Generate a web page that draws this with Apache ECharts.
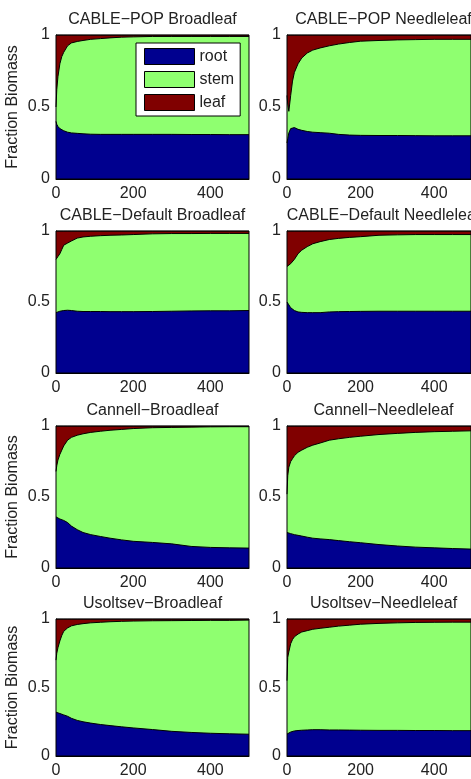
<!DOCTYPE html>
<html lang="en">
<head>
    <meta charset="UTF-8">
    <title>Fraction Biomass</title>
    <script src="https://cdn.jsdelivr.net/npm/echarts@6/dist/echarts.min.js"></script>
    <style>
        body {
            padding: 0;
            margin: 0;
            border: none;
            background: #fff;
        }
    </style>
</head>
<body>
<div style="width: 471px;height: 779px;" id="ec"></div>
<script>
    // years since start, shared by every panel
    const years = [0, 2, 5, 10, 15, 20, 30, 40, 55, 70, 90, 115, 140, 170, 200, 250, 300, 350, 400, 450, 500];

    const titles = [
        'CABLE−POP Broadleaf', 'CABLE−POP Needleleaf',
        'CABLE−Default Broadleaf', 'CABLE−Default Needleleaf',
        'Cannell−Broadleaf', 'Cannell−Needleleaf',
        'Usoltsev−Broadleaf', 'Usoltsev−Needleleaf'
    ];

    // root fraction (bottom boundary) per panel
    const popBroadRoot = [0.40, 0.38, 0.365, 0.35, 0.34, 0.335, 0.325, 0.32, 0.317, 0.314, 0.311, 0.31, 0.31, 0.31, 0.31, 0.31, 0.31, 0.309, 0.309, 0.308, 0.308];
    const popNeedleRoot = [0.25, 0.28, 0.32, 0.35, 0.36, 0.357, 0.345, 0.338, 0.33, 0.325, 0.322, 0.318, 0.31, 0.305, 0.303, 0.302, 0.302, 0.301, 0.30, 0.30, 0.30];
    const defBroadRoot = [0.425, 0.43, 0.435, 0.435, 0.44, 0.44, 0.442, 0.44, 0.435, 0.433, 0.433, 0.433, 0.432, 0.432, 0.432, 0.433, 0.435, 0.437, 0.438, 0.438, 0.44];
    const defNeedleRoot = [0.50, 0.495, 0.48, 0.46, 0.45, 0.44, 0.43, 0.427, 0.425, 0.425, 0.425, 0.43, 0.432, 0.433, 0.434, 0.435, 0.435, 0.435, 0.435, 0.435, 0.435];
    const cannBroadRoot = [0.36, 0.355, 0.35, 0.345, 0.34, 0.335, 0.32, 0.295, 0.27, 0.25, 0.235, 0.222, 0.21, 0.198, 0.188, 0.18, 0.17, 0.152, 0.145, 0.142, 0.14];
    const cannNeedleRoot = [0.25, 0.248, 0.245, 0.242, 0.238, 0.235, 0.23, 0.225, 0.217, 0.21, 0.205, 0.20, 0.193, 0.185, 0.178, 0.165, 0.155, 0.147, 0.142, 0.137, 0.133];
    const usolBroadRoot = [0.32, 0.318, 0.315, 0.31, 0.305, 0.30, 0.29, 0.275, 0.26, 0.25, 0.24, 0.23, 0.222, 0.213, 0.205, 0.193, 0.18, 0.172, 0.166, 0.162, 0.159];
    const usolNeedleRoot = [0.16, 0.165, 0.17, 0.175, 0.18, 0.183, 0.186, 0.188, 0.19, 0.192, 0.192, 0.19, 0.19, 0.189, 0.188, 0.187, 0.187, 0.186, 0.186, 0.185, 0.185];

    // root + stem (boundary under leaf) per panel
    const popBroadTop = [0.50, 0.62, 0.71, 0.80, 0.85, 0.88, 0.925, 0.945, 0.955, 0.962, 0.97, 0.975, 0.98, 0.985, 0.987, 0.99, 0.99, 0.99, 0.99, 0.99, 0.99];
    const popNeedleTop = [0.58, 0.52, 0.47, 0.58, 0.68, 0.74, 0.80, 0.84, 0.875, 0.895, 0.91, 0.925, 0.937, 0.948, 0.957, 0.962, 0.966, 0.968, 0.97, 0.97, 0.97];
    const defBroadTop = [0.80, 0.81, 0.82, 0.84, 0.87, 0.90, 0.915, 0.93, 0.95, 0.958, 0.963, 0.967, 0.97, 0.972, 0.975, 0.98, 0.982, 0.982, 0.983, 0.983, 0.983];
    const defNeedleTop = [0.75, 0.755, 0.76, 0.77, 0.78, 0.80, 0.84, 0.865, 0.89, 0.91, 0.925, 0.94, 0.948, 0.955, 0.96, 0.97, 0.973, 0.975, 0.975, 0.975, 0.975];
    const cannBroadTop = [0.68, 0.72, 0.76, 0.80, 0.83, 0.86, 0.90, 0.92, 0.935, 0.945, 0.955, 0.963, 0.97, 0.976, 0.982, 0.988, 0.99, 0.992, 0.994, 0.995, 0.995];
    const cannNeedleTop = [0.52, 0.65, 0.71, 0.75, 0.77, 0.79, 0.815, 0.83, 0.85, 0.865, 0.88, 0.90, 0.91, 0.92, 0.928, 0.94, 0.948, 0.955, 0.96, 0.963, 0.966];
    const usolBroadTop = [0.70, 0.75, 0.79, 0.84, 0.88, 0.91, 0.935, 0.95, 0.96, 0.966, 0.972, 0.976, 0.98, 0.983, 0.985, 0.987, 0.988, 0.989, 0.99, 0.99, 0.992];
    const usolNeedleTop = [0.55, 0.72, 0.76, 0.82, 0.85, 0.87, 0.89, 0.905, 0.915, 0.925, 0.932, 0.94, 0.948, 0.955, 0.962, 0.968, 0.972, 0.975, 0.976, 0.977, 0.977];

    // whole stack reaches 1 (root + stem + leaf)
    const total = [1, 1, 1, 1, 1, 1, 1, 1, 1, 1, 1, 1, 1, 1, 1, 1, 1, 1, 1, 1, 1];

    const roots = [popBroadRoot, popNeedleRoot, defBroadRoot, defNeedleRoot, cannBroadRoot, cannNeedleRoot, usolBroadRoot, usolNeedleRoot];
    const tops = [popBroadTop, popNeedleTop, defBroadTop, defNeedleTop, cannBroadTop, cannNeedleTop, usolBroadTop, usolNeedleTop];

    const colors = {root: '#00008f', stem: '#8fff70', leaf: '#800000'};
    const font = 'Liberation Sans, Arial, sans-serif';
    const textColor = '#222';

    // panel placement
    const colLeft = [56, 287];
    const rowTop = [35, 231, 426, 619];
    const rowHeight = [144, 142, 142, 143];
    const plotWidth = 193;

    let ec = echarts.init(document.getElementById('ec'));

    let option = {
        animation: false,
        title: [],
        grid: [],
        xAxis: [],
        yAxis: [],
        series: [],
        legend: {
            orient: 'vertical',
            left: 136,
            top: 43,
            z: 10,
            icon: 'rect',
            itemWidth: 50,
            itemHeight: 16,
            itemGap: 6,
            padding: [5, 6, 5, 8],
            backgroundColor: '#fff',
            borderColor: '#000',
            borderWidth: 1,
            selectedMode: false,
            textStyle: {fontSize: 16, color: textColor, fontFamily: font},
            data: ['root', 'stem', 'leaf'].map(n => ({
                name: n,
                itemStyle: {color: colors[n], borderColor: '#000', borderWidth: 1}
            }))
        }
    };

    titles.forEach((t, i) => {
        let r = Math.floor(i / 2);
        let c = i % 2;
        option.title.push({
            text: t,
            left: colLeft[c] + plotWidth / 2,
            top: rowTop[r] - 23,
            textAlign: 'center',
            padding: 0,
            textStyle: {fontSize: 16, fontWeight: 'normal', color: textColor, fontFamily: font}
        });
        option.grid.push({
            left: colLeft[c],
            top: rowTop[r],
            width: plotWidth,
            height: rowHeight[r],
            show: true,
            z: 5,
            backgroundColor: 'transparent',
            borderColor: '#000',
            borderWidth: 1
        });
        option.xAxis.push({
            type: 'value',
            gridIndex: i,
            min: 0,
            max: 500,
            interval: 200,
            axisLine: {show: true, lineStyle: {color: '#000'}},
            axisTick: {show: false},
            splitLine: {show: false},
            axisLabel: {showMaxLabel: false, fontSize: 16, color: textColor, fontFamily: font, margin: 7}
        });
        option.yAxis.push({
            type: 'value',
            gridIndex: i,
            min: 0,
            max: 1,
            interval: 0.5,
            name: (c === 0 && r !== 1) ? 'Fraction Biomass' : '',
            nameLocation: 'middle',
            nameGap: 35,
            nameTextStyle: {fontSize: 16, color: textColor, fontFamily: font},
            axisLine: {show: true, lineStyle: {color: '#000'}},
            axisTick: {show: false},
            splitLine: {show: false},
            axisLabel: {fontSize: 16, color: textColor, fontFamily: font, margin: 6}
        });
        // drawn back to front: leaf band (full), stem boundary, root boundary
        let layers = [
            ['leaf', total],
            ['stem', tops[i]],
            ['root', roots[i]]
        ];
        layers.forEach(([n, vals], k) => {
            option.series.push({
                name: n,
                type: 'line',
                xAxisIndex: i,
                yAxisIndex: i,
                z: 2 + k,
                symbol: 'none',
                lineStyle: {color: '#000', width: 1},
                itemStyle: {color: colors[n]},
                areaStyle: {color: colors[n], opacity: 1, origin: 'start'},
                emphasis: {disabled: true},
                data: years.map((y, j) => [y, vals[j]])
            });
        });
    });

    ec.setOption(option);
</script>
</body>
</html>
